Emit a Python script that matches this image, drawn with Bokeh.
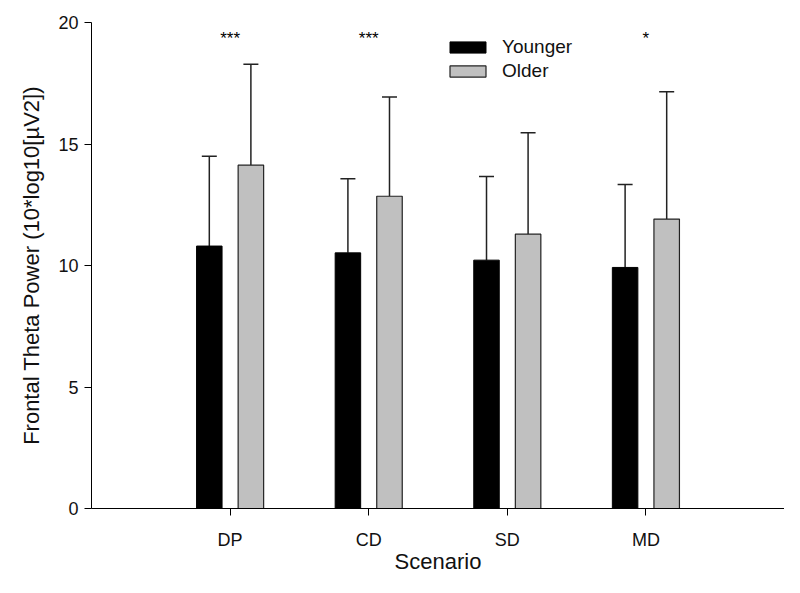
import numpy as np
from bokeh.plotting import figure
from bokeh.models import (ColumnDataSource, Range1d, FixedTicker, Whisker, TeeHead,
                          Legend, LegendItem)
from bokeh.transform import dodge
from bokeh.core.properties import value
from bokeh.embed import file_html
from bokeh.resources import INLINE

# ---- data ----
cats = ["DP", "CD", "SD", "MD"]
younger = [10.80, 10.52, 10.22, 9.92]
younger_err = [3.70, 3.05, 3.44, 3.41]
older = [14.13, 12.85, 11.29, 11.91]
older_err = [4.15, 4.08, 4.17, 5.24]
sig = ["***", "***", "", "*"]
y_ticks = [0, 5, 10, 15, 20]

FONT = "Liberation Sans"

xs = list(range(1, len(cats) + 1))
src = ColumnDataSource(dict(
    x=xs, cat=cats,
    y=younger, y_up=[a + b for a, b in zip(younger, younger_err)],
    o=older, o_up=[a + b for a, b in zip(older, older_err)],
    sig=sig, sig_y=[19.35] * len(cats),
))

p = figure(width=784, height=577, output_backend="svg", toolbar_location=None,
           x_range=Range1d(0, len(cats) + 1), y_range=Range1d(0, 20),
           min_border_left=91, min_border_right=0, min_border_top=22, min_border_bottom=69)
p.outline_line_color = None
p.grid.visible = False
p.background_fill_color = "white"
p.border_fill_color = "white"

off = 0.15
w = 0.184
r_y = p.vbar(x=dodge("x", -off), top="y", width=w, source=src,
             fill_color="black", line_color="black", line_width=1)
r_o = p.vbar(x=dodge("x", off), top="o", width=w, source=src,
             fill_color="#c0c0c0", line_color="#222222", line_width=1.2)

for base_off, lo, up in [(-off, "y", "y_up"), (off, "o", "o_up")]:
    wk = Whisker(source=src, base=dodge("x", base_off), lower=lo, upper=up,
                 dimension="height", line_color="#222222", line_width=1.5,
                 upper_head=TeeHead(size=15, line_color="#222222", line_width=1.5),
                 lower_head=None)
    p.add_layout(wk)

p.text(x="x", y="sig_y", text="sig", source=src, text_align="center",
       text_baseline="alphabetic", text_font=value(FONT), text_font_size="17px",
       text_color="black")

# axes
p.xaxis.ticker = FixedTicker(ticks=xs)
p.xaxis.major_label_overrides = {x: c for x, c in zip(xs, cats)}
p.yaxis.ticker = FixedTicker(ticks=y_ticks)
for ax in (p.xaxis[0], p.yaxis[0]):
    ax.minor_tick_line_color = None
    ax.major_tick_in = 0
    ax.major_tick_out = 7
    ax.axis_line_color = "black"
    ax.major_tick_line_color = "black"
    ax.major_label_text_font = FONT
    ax.major_label_text_font_size = "18px"
    ax.major_label_text_color = "#111111"
    ax.axis_label_text_font = FONT
    ax.axis_label_text_font_style = "normal"
    ax.axis_label_text_color = "#111111"
    ax.axis_label_text_font_size = "22px"
p.xaxis.axis_label = "Scenario"
p.yaxis.axis_label = "Frontal Theta Power (10*log10[\u00b5V2])"
p.xaxis.major_label_standoff = 14
p.xaxis.axis_label_standoff = -4
p.yaxis.major_label_standoff = 6
p.yaxis.axis_label_standoff = 11

legend = Legend(items=[LegendItem(label="Younger", renderers=[r_y]),
                       LegendItem(label="Older", renderers=[r_o])],
                location=(354, 426), orientation="vertical",
                glyph_width=45, glyph_height=14, label_height=20, spacing=2,
                label_standoff=12, padding=0, margin=0,
                label_text_font=FONT, label_text_font_size="19px",
                label_text_color="#111111",
                border_line_color=None, background_fill_alpha=0)
p.add_layout(legend)

open("out.html", "w").write(file_html(p, INLINE))
